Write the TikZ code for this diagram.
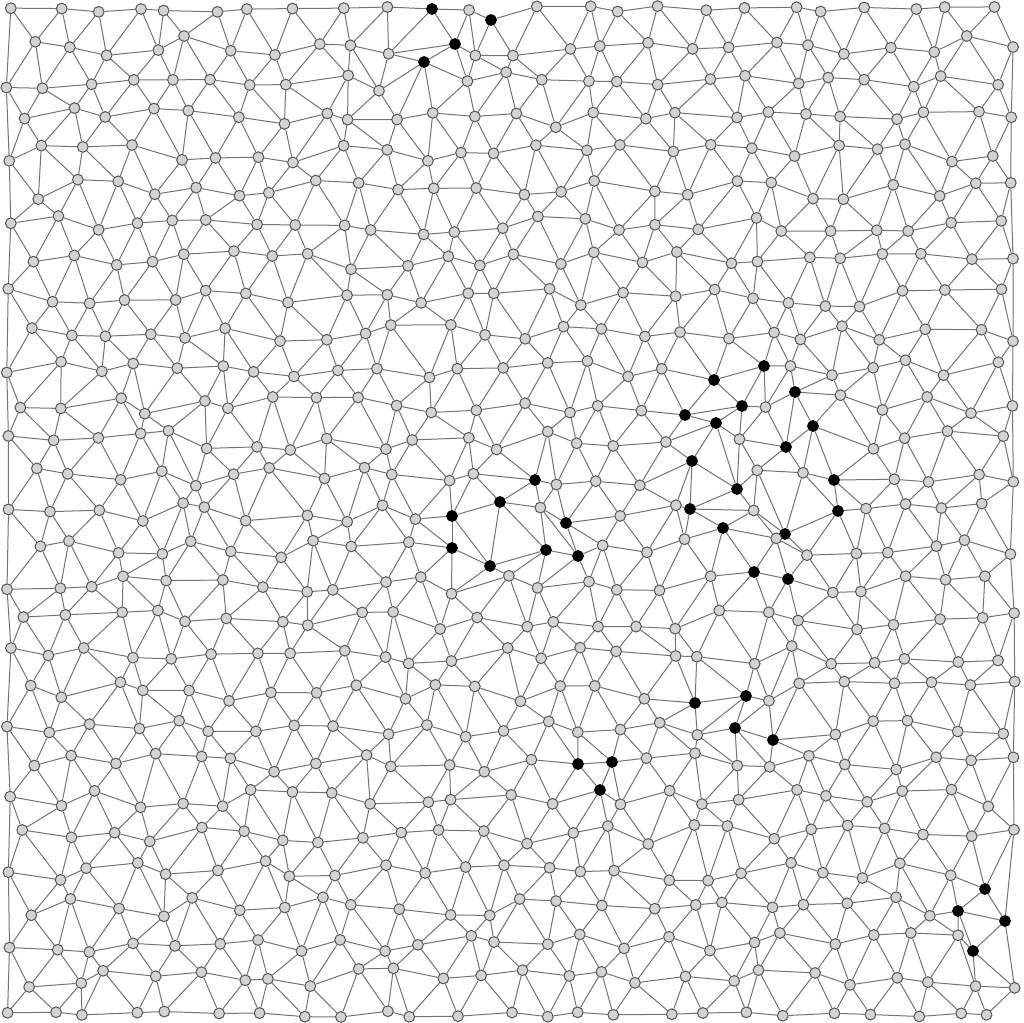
\documentclass[tikz,border=0pt]{standalone}
\pgfdeclarelayer{bg}
\pgfsetlayers{bg,main}
\definecolor{vfill}{RGB}{211,211,211}
\definecolor{vline}{RGB}{85,85,85}
\definecolor{eline}{RGB}{115,115,115}
\newcommand\bk[4]{\expandafter\def\csname bkx-#1-#2\endcsname{#3}\expandafter\def\csname bky-#1-#2\endcsname{#4}}
% black vertices: row, column, x, y (pixels)
\bk{0}{10}{432}{9}
\bk{0}{12}{491}{20}
\bk{1}{10}{455}{44}
\bk{2}{10}{424}{62}
\bk{10}{17}{714}{380}
\bk{10}{18}{764}{366}
\bk{11}{19}{795}{392}
\bk{11}{17}{742}{406}
\bk{11}{16}{685}{415}
\bk{12}{17}{716}{423}
\bk{12}{20}{813}{426}
\bk{12}{19}{786}{447}
\bk{13}{16}{692}{461}
\bk{13}{20}{834}{480}
\bk{13}{17}{737}{489}
\bk{14}{17}{690}{509}
\bk{14}{20}{838}{511}
\bk{15}{17}{723}{528}
\bk{14}{19}{785}{534}
\bk{16}{18}{754}{572}
\bk{16}{19}{788}{579}
\bk{13}{12}{535}{480}
\bk{14}{12}{500}{502}
\bk{14}{11}{452}{516}
\bk{14}{14}{566}{523}
\bk{15}{10}{452}{548}
\bk{15}{12}{546}{550}
\bk{15}{13}{578}{556}
\bk{15}{11}{490}{566}
\bk{19}{17}{746}{696}
\bk{19}{16}{695}{703}
\bk{20}{18}{735}{728}
\bk{20}{19}{773}{740}
\bk{21}{13}{578}{764}
\bk{21}{14}{612}{762}
\bk{22}{14}{600}{790}
\bk{24}{24}{985}{889}
\bk{25}{23}{958}{911}
\bk{25}{24}{1005}{921}
\bk{26}{24}{973}{951}
\begin{document}
\pgfmathsetseed{2718}
\begin{tikzpicture}[x=0.5pt,y=-0.5pt,
  vtx/.style={circle,draw=vline,fill=vfill,line width=0.5pt,inner sep=0pt,minimum size=5.4pt},
  hot/.style={vtx,fill=black,draw=black},
  edge/.style={draw=eline,line width=0.5pt}]
\useasboundingbox (0,0) rectangle (1024,1023);
\foreach \r in {0,...,28}{
  \foreach \c in {0,...,24}{
    \ifodd\r \def\off{30.47}\else\def\off{10}\fi
    \pgfmathsetmacro\px{\off+40.94*\c+11*rand}
    \pgfmathsetmacro\py{10+35.86*\r+10*rand}
    \ifnum\r=0 \pgfmathsetmacro\py{9+3*rand}\fi
    \ifnum\r=28 \pgfmathsetmacro\py{1014+3*rand}\fi
    \ifodd\r \ifnum\c=24 \pgfmathsetmacro\px{1012+3*rand}\fi\else\ifnum\c=0 \pgfmathsetmacro\px{9+3*rand}\fi\fi
    \ifcsname bkx-\r-\c\endcsname
      \edef\px{\csname bkx-\r-\c\endcsname}%
      \edef\py{\csname bky-\r-\c\endcsname}%
      \node[hot] (n-\r-\c) at (\px,\py) {};
    \else
      \node[vtx] (n-\r-\c) at (\px,\py) {};
    \fi
  }
}
\begin{pgfonlayer}{bg}
\foreach \r in {0,...,28}{
  \foreach \c in {0,...,24}{
    \pgfmathtruncatemacro\cp{\c+1}
    \pgfmathtruncatemacro\cm{\c-1}
    \pgfmathtruncatemacro\rp{\r+1}
    \ifnum\c<24 \draw[edge] (n-\r-\c) -- (n-\r-\cp);\fi
    \ifnum\r<28
      \draw[edge] (n-\r-\c) -- (n-\rp-\c);
      \ifodd\r
        \ifnum\c<24 \draw[edge] (n-\r-\c) -- (n-\rp-\cp);\fi
      \else
        \ifnum\c>0 \draw[edge] (n-\r-\c) -- (n-\rp-\cm);\fi
      \fi
    \fi
  }
}
\foreach \r in {0,2,...,26}{\pgfmathtruncatemacro\rpp{\r+2}\draw[edge] (n-\r-0) -- (n-\rpp-0);}
\foreach \r in {1,3,...,25}{\pgfmathtruncatemacro\rpp{\r+2}\draw[edge] (n-\r-24) -- (n-\rpp-24);}
\end{pgfonlayer}
\end{tikzpicture}
\end{document}
